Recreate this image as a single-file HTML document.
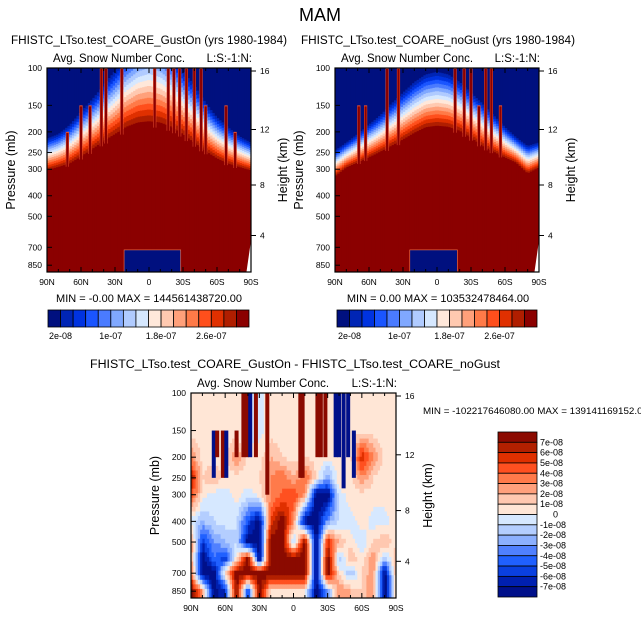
<!DOCTYPE html>
<html><head><meta charset="utf-8">
<style>
html,body{margin:0;padding:0;background:#fff;}
svg{display:block;font-family:"Liberation Sans",Arial,sans-serif;}
</style></head>
<body>
<svg id="fig" width="641" height="622" viewBox="0 0 641 622">
<text x="320" y="21" font-size="18" text-anchor="middle">MAM</text>
</svg>
<script>
// ---------- data ----------
const lats10 = [90,80,70,60,50,40,30,20,10,0,-10,-20,-30,-40,-50,-60,-70,-80,-90];
const gustRedTop   = [310,300,290,270,250,230,215,200,192,190,192,200,215,235,255,275,290,300,310];
const gustBlueBot  = [210,200,180,155,135,115,98,82,72,68,72,82,98,115,140,165,185,205,220];
const noGustRedTop  = [330,300,285,270,255,240,225,210,198,195,197,205,220,240,255,270,285,320,300];
const noGustBlueBot = [240,220,200,180,162,142,126,112,103,100,103,112,126,142,162,185,208,228,220];
const gustSpikeLats = [72,60,52,42,38,24,-5,-17,-22,-27,-33,-40,-46,-50,-68,-76];
const gustSpikeTops = [200,150,150,100,100,100,100,100,100,100,100,100,100,150,150,200];
const noGustSpikeLats = [69,63,44,34,-16,-24,-30,-37,-43,-48,-56];
const noGustSpikeTops = [150,150,100,100,100,100,100,150,100,100,150];
const gustBlob = {north:22, south:-28, top:720};
const noGustBlob = {north:24, south:-18, top:720};
const diffLevels = [100,150,200,250,300,400,500,600,700,850,925];
const diffRows = [
 [0.5,0.5,0.5,0.5,0.5,-0.5,-0.5,0.5,0.5,0.5,0.5,0.5,0.5,0.5,0.5,0.5,0.5,0.5,0.5],
 [0.5,0.5,0.5,0.5,0.5,-0.5,-0.5,0.5,0.5,0.5,0.5,0.5,0.5,0.5,0.5,0.5,0.5,0.5,0.5],
 [3,0.5,0.5,0.5,3,0.5,0.5,2,1,0.5,1,0.5,0.5,0.5,0.5,6,3,0.5,0.5],
 [7,1,2,0.5,0.5,0.5,1,3,4,2,4,1,-3,1,0.5,3,1,0.5,0.5],
 [5,0.5,-0.5,-0.5,0.5,-0.5,0.5,3,4,5,3,-8,-8,-0.5,0.5,0.5,0.5,0.5,0.5],
 [-0.5,-2,-1,-0.5,-1,-5,-8,5,8,3,-8,-8,-3,-1,-0.5,0.5,-0.5,-0.5,0.5],
 [3,-6,-3,-2,-1,-8,-8,8,8,-2,8,-8,6,2,0.5,-1,1,2,0.5],
 [3,-8,-4,-6,0.5,8,-8,8,8,8,8,-8,8,-2,2,0.5,3,-2,2],
 [4,-8,-8,1,8,8,8,8,8,8,8,-8,8,1,-2,1,3,-8,2],
 [8,3,-8,-6,8,-6,8,0.5,0.5,0.5,0.5,-8,-3,3,2,1,3,-8,1],
 [8,3,-8,-6,8,-6,8,0.5,0.5,0.5,0.5,-8,-3,3,2,1,3,-8,1]
];
const diffSpikeLats = [70,67,62,59,50,44,41,38,33,23,-6,-8,-21,-24,-28,-37,-40,-44,-48,-53];
const diffSpikeTops = [150,150,150,150,150,100,100,100,100,100,100,100,100,100,100,100,100,100,100,150];
const diffSpikeBots = [250,200,250,250,200,200,200,200,200,300,250,250,200,200,200,200,200,280,200,250];
const diffSpikeVals = [-8,8,8,-8,8,8,8,-8,8,8,8,8,8,8,8,-8,-8,-8,-8,-8];
const seqColors = ["#00107f","#0025b5","#0033e0","#1a55ff","#4a7bff","#80a8ff","#b0cbff","#d6e8ff","#ffe8da","#ffc9b0","#ffa07a","#ff7a48","#ff4f1c","#e03000","#b01e00","#8b0000"];
const divColors = ["#00108a","#0020b0","#0a40e0","#2060ff","#5080ff","#8cb0ff","#b4ceff","#d6e8ff","#ffe6d6","#ffc8b0","#ffa07c","#ff7a4a","#ff5020","#e03000","#b22000","#8b0a00"];
const topCbLabels = ["2e-08","1e-07","1.8e-07","2.6e-07"];
const divCbLabels = ["7e-08","6e-08","5e-08","4e-08","3e-08","2e-08","1e-08","0","-1e-08","-2e-08","-3e-08","-4e-08","-5e-08","-6e-08","-7e-08"];
const latTickLabels = ["90N","60N","30N","0","30S","60S","90S"];
const latTickVals = [90,60,30,0,-30,-60,-90];
const presTicks = [100,150,200,250,300,400,500,700,850];
const kmTicks = [16,12,8,4];
const kmTickOffsets = [3,61.5,117,167.5];

// ---------- helpers ----------
const svg = document.getElementById('fig');
const NS = 'http://www.w3.org/2000/svg';
function mk(tag, attrs, parent){const e=document.createElementNS(NS,tag);for(const k in attrs)e.setAttribute(k,attrs[k]);(parent||svg).appendChild(e);return e;}
const PBOT = 915;
function yScale(P,p){return P.y0 + Math.log10(p/100)/Math.log10(PBOT/100)*P.h;}
function xScale(P,lat){return P.x0 + (90-lat)/180*P.w;}
function interp(arr,lat){const f=Math.max(0,Math.min(18,(90-lat)/10));const i=Math.min(17,Math.floor(f));const t=f-i;return arr[i]*(1-t)+arr[i+1]*t;}

function drawSeq(P, redTop, blueBot, spikeLats, spikeTops, blob, name){
  const g = mk('g',{});
  
  
  const step = 2;
  for(let lat=90; lat>-90; lat-=step){
    const c = lat-step/2;
    const lr = Math.log10(interp(redTop,c)), lb = Math.log10(interp(blueBot,c));
    const x = xScale(P,lat), w = P.w*step/180+0.4;
    for(let k=0;k<16;k++){
      let l0 = lb+(lr-lb)*k/16, l1 = lb+(lr-lb)*(k+1)/16;
      if(k===0) l0 = 2; if(k===15) l1 = Math.log10(PBOT);
      l0=Math.max(2,Math.min(Math.log10(PBOT),l0)); l1=Math.max(2,Math.min(Math.log10(PBOT),l1));
      if(l1<=l0) continue;
      const y0=yScale(P,Math.pow(10,l0)), y1=yScale(P,Math.pow(10,l1));
      const r = mk('rect',{x:x.toFixed(2),y:y0.toFixed(2),width:w.toFixed(2),height:(y1-y0+0.4).toFixed(2),fill:seqColors[k]},g);
      
      
    }
  }
  spikeLats.forEach((lat,i)=>{
    const x=xScale(P,lat), yt=yScale(P,spikeTops[i]), yb=yScale(P,interp(redTop,lat));
    const e = mk('rect',{x:(x-1.6).toFixed(2),y:yt.toFixed(2),width:3.2,height:(yb-yt).toFixed(2),fill:"#e85030"},g);
    
    
    const s = mk('rect',{x:(x-1.1).toFixed(2),y:(yt+1).toFixed(2),width:2.2,height:(yb-yt).toFixed(2),fill:"#8b0000"},g);
    
    
  });
  const bx0=xScale(P,blob.north), bx1=xScale(P,blob.south), by=yScale(P,blob.top);
  const b = mk('rect',{x:bx0,y:by,width:bx1-bx0,height:P.y0+P.h-by,fill:"#00107f",stroke:"#ff7a48","stroke-width":0.6},g);
  
  
  const wx=xScale(P,-86), wy=yScale(P,650);
  const wp = mk('polygon',{points:`${P.x0+P.w},${wy} ${P.x0+P.w},${P.y0+P.h} ${wx},${P.y0+P.h}`,fill:"#fff"},g);
  
  
}

function colIdx(v){let idx=Math.floor(v)+8;return Math.max(0,Math.min(15,idx));}

function drawDiff(P){
  const g = mk('g',{});
  
  
  const L = diffLevels.map(p=>Math.log10(p));
  const step=2, nRows=45;
  const lTop=2, lBot=Math.log10(PBOT);
  for(let lat=90; lat>-90; lat-=step){
    const c=lat-step/2;
    const f=(90-c)/10, i=Math.min(17,Math.floor(f)), t=f-i;
    const x=xScale(P,lat), w=P.w*step/180+0.4;
    let prevIdx=null, segStart=null;
    const flush=(yEnd)=>{
      const e = mk('rect',{x:x.toFixed(2),y:segStart.toFixed(2),width:w.toFixed(2),height:(yEnd-segStart+0.4).toFixed(2),fill:divColors[prevIdx]},g);
      
      
    };
    for(let r=0;r<nRows;r++){
      const l=lTop+(lBot-lTop)*(r+0.5)/nRows;
      let j=0; while(j<L.length-2 && l>L[j+1]) j++;
      const u=Math.max(0,Math.min(1,(l-L[j])/(L[j+1]-L[j])));
      const v0=diffRows[j][i]*(1-t)+diffRows[j][i+1]*t;
      const v1=diffRows[j+1][i]*(1-t)+diffRows[j+1][i+1]*t;
      const idx=colIdx(v0*(1-u)+v1*u);
      const y=P.y0+P.h*r/nRows;
      if(idx!==prevIdx){ if(prevIdx!==null) flush(y); prevIdx=idx; segStart=y; }
    }
    flush(P.y0+P.h);
  }
  diffSpikeLats.forEach((lat,k)=>{
    const x=xScale(P,lat), yt=yScale(P,diffSpikeTops[k]), yb=yScale(P,diffSpikeBots[k]);
    const s = mk('rect',{x:(x-2).toFixed(2),y:yt.toFixed(2),width:4,height:(yb-yt).toFixed(2),fill:divColors[colIdx(diffSpikeVals[k])]},g);
    
    
  });
}

function axes(P, pref){
  const g = mk('g',{});
  
  
  mk('rect',{x:P.x0,y:P.y0,width:P.w,height:P.h,fill:"none",stroke:"#000","stroke-width":1.2},g);
  for(let lat=90;lat>=-90;lat-=10){
    const x=xScale(P,lat); const maj = lat%30===0;
    const L = maj?5:3;
    mk('line',{x1:x,y1:P.y0+P.h,x2:x,y2:P.y0+P.h-L,stroke:"#000"},g);
    mk('line',{x1:x,y1:P.y0,x2:x,y2:P.y0+L,stroke:"#000"},g);
  }
  latTickVals.forEach((v,i)=>{
    const t = mk('text',{x:xScale(P,v),y:P.y0+P.h+13,"font-size":8.5,"text-anchor":"middle"},g);
    t.textContent = latTickLabels[i];
    
    
  });
  presTicks.forEach(p=>{
    const y=yScale(P,p);
    mk('line',{x1:P.x0,y1:y,x2:P.x0+5,y2:y,stroke:"#000"},g);
    const t = mk('text',{x:P.x0-5,y:y+3,"font-size":8.5,"text-anchor":"end"},g);
    t.textContent = p;
    
    
  });
  kmTicks.forEach((k,i)=>{
    const y=P.y0+kmTickOffsets[i]*P.h/204;
    mk('line',{x1:P.x0+P.w,y1:y,x2:P.x0+P.w+5,y2:y,stroke:"#000"},g);
    const t = mk('text',{x:P.x0+P.w+9,y:y+3,"font-size":8.5},g);
    t.textContent = k;
    
    
  });
  const a = mk('text',{x:P.x0+6,y:P.y0-6,"font-size":11.5},g);
  a.textContent = "Avg. Snow Number Conc.";
  
  
  const b = mk('text',{x:P.x0+P.w+1,y:P.y0-6,"font-size":11.5,"text-anchor":"end"},g);
  b.textContent = "L:S:-1:N:";
  
  
  const yl = mk('text',{transform:`translate(${P.x0-32},${P.y0+P.h/2}) rotate(-90)`,"font-size":12.5,"text-anchor":"middle"},g);
  yl.textContent = "Pressure (mb)";
  
  
  const yr = mk('text',{transform:`translate(${P.x0+P.w+36},${P.y0+P.h/2}) rotate(-90)`,"font-size":12.5,"text-anchor":"middle"},g);
  yr.textContent = "Height (km)";
  
  
}

function hColorbar(x0,y0,w,h,name){
  const g = mk('g',{});
  
  
  const bw = w/16;
  seqColors.forEach((c,i)=>{
    const r = mk('rect',{x:x0+i*bw,y:y0,width:bw,height:h,fill:c,stroke:"#000","stroke-width":0.8},g);
    
    
  });
  topCbLabels.forEach((l,i)=>{
    const t = mk('text',{x:x0+bw*(1+4*i),y:y0+h+12,"font-size":9,"text-anchor":"middle"},g);
    t.textContent = l;
    
    
  });
}

// ---------- panels ----------
const P1 = {x0:47,y0:68,w:204,h:204};
const P2 = {x0:335,y0:68,w:204,h:204};
const P3 = {x0:191,y0:393,w:205,h:205};

drawSeq(P1,gustRedTop,gustBlueBot,gustSpikeLats,gustSpikeTops,gustBlob,'gust-on');
drawSeq(P2,noGustRedTop,noGustBlueBot,noGustSpikeLats,noGustSpikeTops,noGustBlob,'no-gust');
drawDiff(P3);
axes(P1,'gust-on'); axes(P2,'no-gust'); axes(P3,'difference');
hColorbar(48,310,201,17,'gust-on-colorbar');
hColorbar(337,310,200,17,'no-gust-colorbar');

function txt(x,y,s,size,anchor,name,len){
  const a={x:x,y:y,"font-size":size,"text-anchor":anchor||"start"};
  if(len){a.textLength=len;a.lengthAdjust="spacingAndGlyphs";}
  const t = mk('text',a);
  t.textContent = s;
  
  
}
txt(149,44,"FHISTC_LTso.test_COARE_GustOn (yrs 1980-1984)",12.3,"middle",'left-panel-title',276);
txt(438,44,"FHISTC_LTso.test_COARE_noGust (yrs 1980-1984)",12.3,"middle",'right-panel-title',274);
txt(149,302,"MIN =  -0.00  MAX = 144561438720.00",11,"middle",'left-min-max');
txt(438,302,"MIN =   0.00  MAX = 103532478464.00",11,"middle",'right-min-max');
txt(295,368,"FHISTC_LTso.test_COARE_GustOn - FHISTC_LTso.test_COARE_noGust",12.3,"middle",'difference-title',410);
txt(423,414,"MIN = -102217646080.00  MAX = 139141169152.00",9.5,"start",'difference-min-max',225);

// vertical colorbar
const vg = mk('g',{});


const vx=498, vy=432, vw=39, vh=165, bh=vh/16;
divColors.slice().reverse().forEach((c,i)=>{
  const r = mk('rect',{x:vx,y:vy+i*bh,width:vw,height:bh,fill:c,stroke:"#000","stroke-width":0.8},vg);
  
  
});
divCbLabels.forEach((l,i)=>{
  const t = mk('text',{x:l==="0"?553:540,y:vy+bh*(i+1)+3,"font-size":9},vg);
  t.textContent = l;
  
  
});
</script>
</body></html>
